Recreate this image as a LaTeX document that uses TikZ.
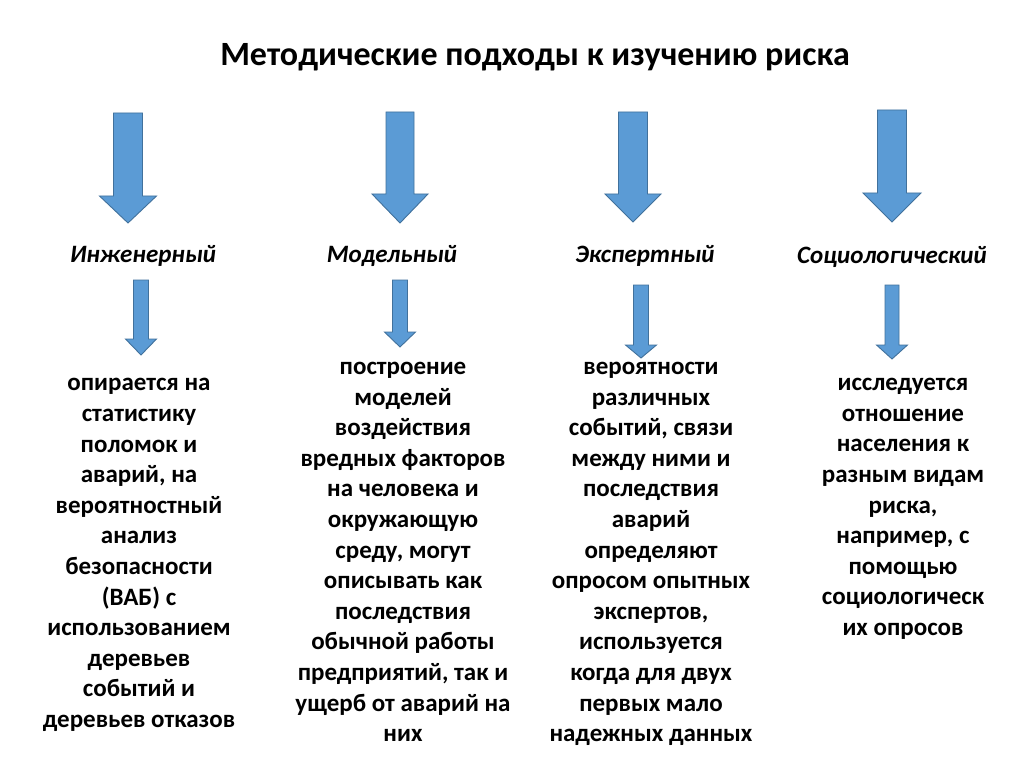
\documentclass[tikz,border=0pt]{standalone}
\usepackage{fontspec}
\setmainfont{Carlito}
\definecolor{arrfill}{HTML}{5B9BD5}
\definecolor{arrline}{HTML}{41719C}
\newcommand\blkarrow[6]{% cx, top, shaft half width, head start, head half width, tip
  \draw[blockarrow] (#1-#3,#2) -- (#1+#3,#2) -- (#1+#3,#4) -- (#1+#5,#4) -- (#1,#6)
    -- (#1-#5,#4) -- (#1-#3,#4) -- cycle;}
\tikzset{
  blockarrow/.style={fill=arrfill, draw=arrline, line width=0.9pt, line join=miter},
  titletext/.style={inner sep=0pt, font=\fontsize{34}{40}\selectfont\bfseries},
  headtext/.style={inner sep=0pt, font=\fontsize{25}{30}\selectfont\bfseries\itshape},
  bodytext/.style={inner sep=0pt, align=center, font=\fontsize{25}{30.6}\selectfont\bfseries}
}
\begin{document}
\begin{tikzpicture}[x=1pt,y=-1pt]
\useasboundingbox (0,0) rectangle (1024,767);
\fill[white] (0,0) rectangle (1024,767);

\node[titletext] (title) at (535,57) {Методические подходы к изучению риска};

% big arrows
\blkarrow{128}{113}{14.5}{196}{28.5}{223}
\blkarrow{400}{112}{14}{194}{28}{223}
\blkarrow{633}{112}{14.5}{194}{28}{222}
\blkarrow{892}{110}{14.5}{193}{29}{222}

\node[headtext] (h1) at (143,256) {Инженерный};
\node[headtext] (h2) at (392,256) {Модельный};
\node[headtext] (h3) at (645,256) {Экспертный};
\node[headtext] (h4) at (892,257) {Социологический};

% small arrows
\blkarrow{141}{280}{7.5}{339}{15.5}{355}
\blkarrow{400}{280}{7.5}{332}{15.5}{347}
\blkarrow{641}{285}{7.5}{345}{15.5}{358}
\blkarrow{892}{285}{7}{345}{15.5}{359}

\node[bodytext] (t1) at (139,555) {опирается на\\статистику\\поломок и\\аварий, на\\вероятностный\\анализ\\безопасности\\(ВАБ) с\\использованием\\деревьев\\событий и\\деревьев отказов};
\node[bodytext] (t2) at (403,552) {построение\\моделей\\воздействия\\вредных факторов\\на человека и\\окружающую\\среду, могут\\описывать как\\последствия\\обычной работы\\предприятий, так и\\ущерб от аварий на\\них};
\node[bodytext] (t3) at (651,554) {вероятности\\различных\\событий, связи\\между ними и\\последствия\\аварий\\определяют\\опросом опытных\\экспертов,\\используется\\когда для двух\\первых мало\\надежных данных};
\node[bodytext] (t4) at (903,509) {исследуется\\отношение\\населения к\\разным видам\\риска,\\например, с\\помощью\\социологическ\\их опросов};
\end{tikzpicture}
\end{document}
